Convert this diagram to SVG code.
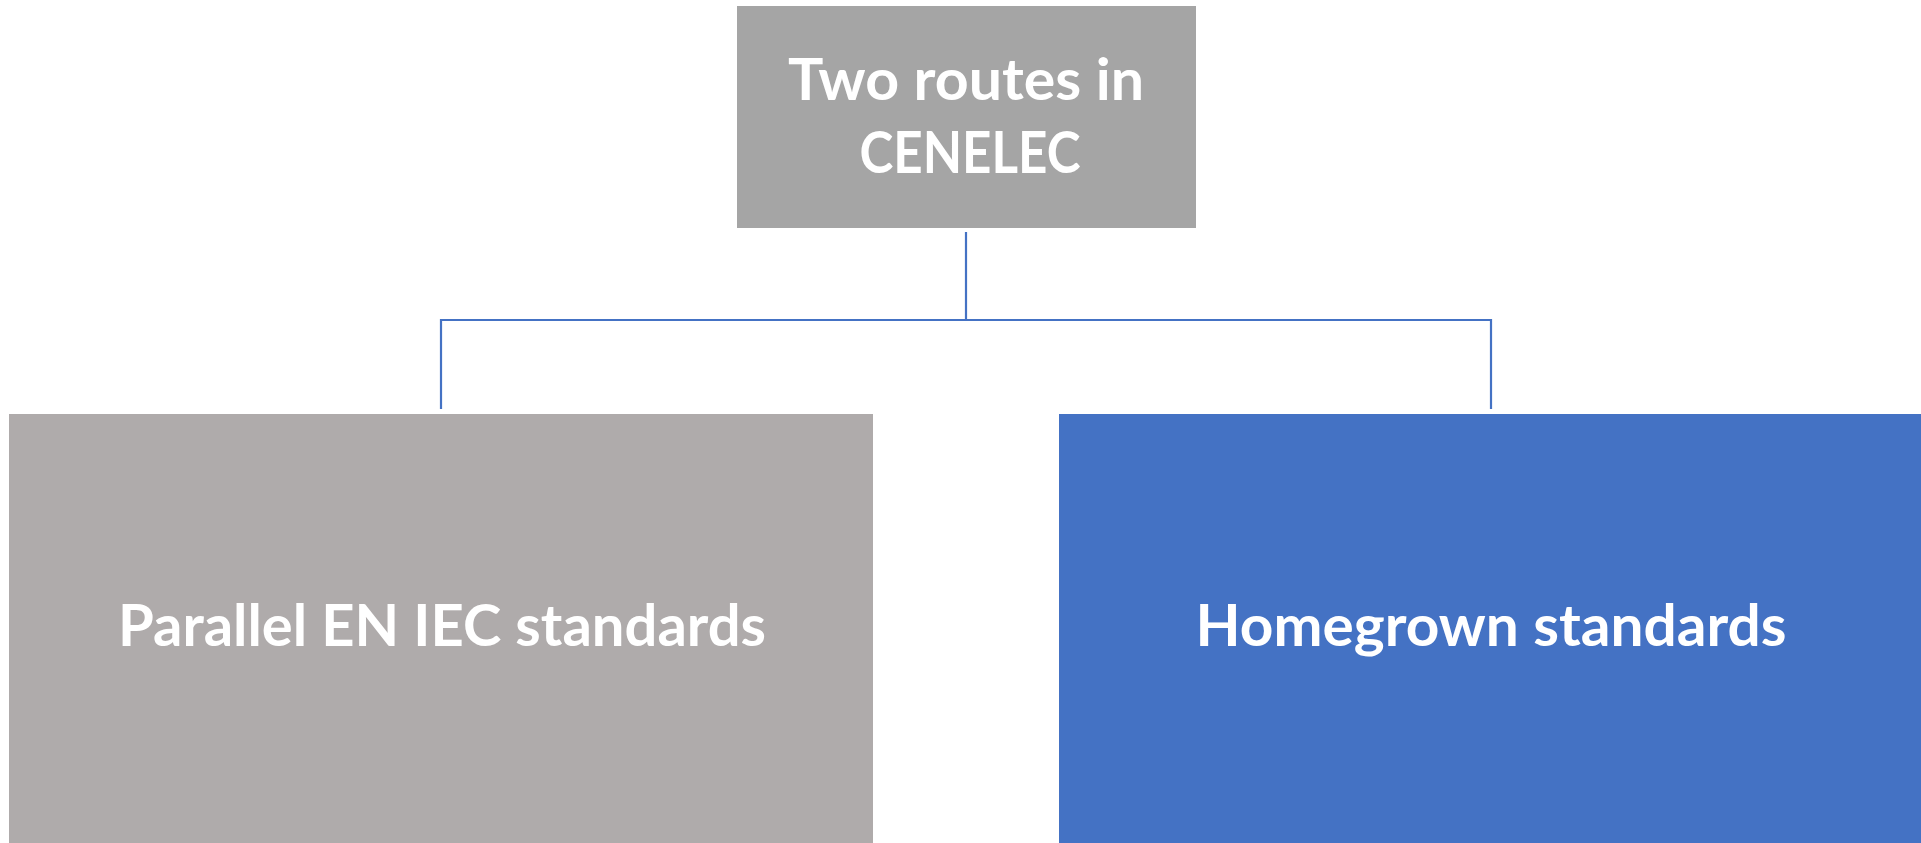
<svg xmlns="http://www.w3.org/2000/svg" width="1921" height="843" viewBox="0 0 1921 843">
<style>
.lbl{font-family:Lato,"Open Sans","Liberation Sans",sans-serif;font-weight:700;font-size:58px;fill:#ffffff;text-anchor:middle}
.conn{fill:none;stroke:#4472C4;stroke-width:2.2}
</style>
<rect width="1921" height="843" fill="#ffffff"/>
<g id="connectors">
<path class="conn" d="M966 232 V320"/>
<path class="conn" d="M441 409 V320 H1491 V409"/>
</g>
<g id="node-top">
<rect x="737" y="6" width="459" height="222" fill="#A5A5A5"/>
<text class="lbl" x="966" y="100" textLength="356" lengthAdjust="spacingAndGlyphs">Two routes in</text>
<text class="lbl" x="970" y="173" textLength="221" lengthAdjust="spacingAndGlyphs">CENELEC</text>
</g>
<g id="node-left">
<rect x="9" y="414" width="864" height="429" fill="#AFABAB"/>
<text class="lbl" x="442" y="646" textLength="648" lengthAdjust="spacingAndGlyphs">Parallel EN IEC standards</text>
</g>
<g id="node-right">
<rect x="1059" y="414" width="862" height="429" fill="#4472C4"/>
<text class="lbl" x="1491" y="646" textLength="591" lengthAdjust="spacingAndGlyphs">Homegrown standards</text>
</g>
</svg>
